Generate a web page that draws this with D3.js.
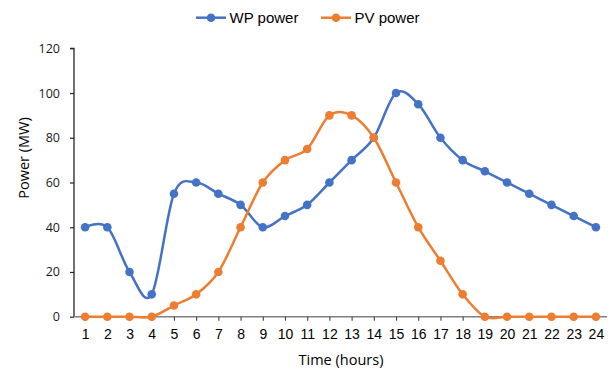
<!DOCTYPE html>
<html>
<head>
<meta charset="utf-8">
<script src="https://cdn.jsdelivr.net/npm/d3@7"></script>
<style>
  html, body { margin: 0; padding: 0; background: #fff; }
  svg { display: block; }
</style>
</head>
<body>
<svg id="chart" width="613" height="372"></svg>
<script>
// Hourly power output (MW)
const hours = [1,2,3,4,5,6,7,8,9,10,11,12,13,14,15,16,17,18,19,20,21,22,23,24];
const wpPower = [40,40,20,10,55,60,55,50,40,45,50,60,70,80,100,95,80,70,65,60,55,50,45,40];
const pvPower = [0,0,0,0,5,10,20,40,60,70,75,90,90,80,60,40,25,10,0,0,0,0,0,0];
const yTicks = [0,20,40,60,80,100,120];
const seriesNames = ["WP power", "PV power"];
const seriesColors = ["#4472C4", "#ED7D31"];

const svg = d3.select("#chart");
const plotLeft = 74, plotRight = 607, plotTop = 48.3, plotBottom = 316.7;

const x = d3.scalePoint().domain(hours).range([plotLeft, plotRight]).padding(0.5);
const y = d3.scaleLinear().domain([0, 120]).range([plotBottom, plotTop]);

const labelFont = "'Liberation Sans', Arial, sans-serif";
const titleFont = "'Open Sans', 'Noto Sans', sans-serif";

// Y axis
const yAxis = svg.append("g").attr("transform", `translate(${plotLeft},0)`)
  .call(d3.axisLeft(y).tickValues(yTicks).tickSize(4).tickPadding(10));
yAxis.select(".domain").attr("stroke", "#262626").attr("stroke-width", 1.3).attr("d", `M-4,${plotTop}H0V${plotBottom}`);
yAxis.selectAll(".tick line").attr("stroke", "#262626").attr("stroke-width", 1.2);
yAxis.selectAll(".tick text").attr("font-family", titleFont).attr("font-size", 12.5).attr("fill", "#1a1a1a");

// X axis
const xAxis = svg.append("g").attr("transform", `translate(0,${plotBottom})`)
  .call(d3.axisBottom(x).tickSize(4).tickPadding(8));
xAxis.select(".domain").attr("stroke", "#808080").attr("stroke-width", 1.6).attr("d", `M${plotLeft},0H${plotRight}`);
xAxis.selectAll(".tick line").attr("stroke", "#404040").attr("stroke-width", 1.1);
xAxis.selectAll(".tick text").attr("font-family", labelFont).attr("font-size", 14).attr("fill", "#000");

// Axis titles
svg.append("text").attr("x", 341).attr("y", 365)
  .attr("text-anchor", "middle").attr("font-family", titleFont).attr("font-size", 14.5)
  .attr("fill", "#000").text("Time (hours)");
svg.append("text").attr("transform", "translate(29,158) rotate(-90)")
  .attr("text-anchor", "middle").attr("font-family", titleFont).attr("font-size", 14.5)
  .attr("fill", "#000").text("Power (MW)");

// Series
const series = [wpPower, pvPower];
const line = d3.line()
  .x((d, i) => x(hours[i]))
  .y(d => y(d))
  .curve(d3.curveCardinal.tension(0));

series.forEach((vals, s) => {
  const g = svg.append("g");
  g.append("path").datum(vals)
    .attr("d", line).attr("fill", "none")
    .attr("stroke", seriesColors[s]).attr("stroke-width", 2.5)
    .attr("stroke-linejoin", "round");
  g.selectAll("circle").data(vals).join("circle")
    .attr("cx", (d, i) => x(hours[i])).attr("cy", d => y(d))
    .attr("r", 4.3).attr("fill", seriesColors[s]);
});

// Legend
const legendX = [196, 321];
seriesNames.forEach((name, s) => {
  const g = svg.append("g").attr("transform", `translate(${legendX[s]},17.7)`);
  g.append("line").attr("x1", 0).attr("x2", 30).attr("y1", 0).attr("y2", 0)
    .attr("stroke", seriesColors[s]).attr("stroke-width", 2.5);
  g.append("circle").attr("cx", 15).attr("cy", 0).attr("r", 4.3).attr("fill", seriesColors[s]);
  g.append("text").attr("x", 33.5).attr("y", 5.3)
    .attr("font-family", labelFont).attr("font-size", 15).attr("fill", "#000").text(name);
});
</script>
</body>
</html>
